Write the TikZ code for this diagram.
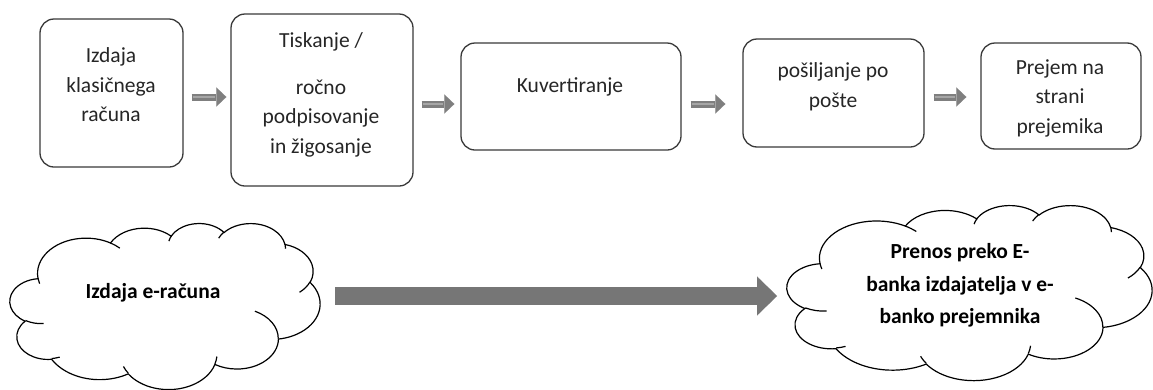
\documentclass[tikz,border=0pt]{standalone}
\usepackage{fontspec}
\setmainfont{Carlito}
\usetikzlibrary{arrows.meta}

\definecolor{boxline}{HTML}{3A3A3A}
\definecolor{txt}{HTML}{262626}
\definecolor{arrowgray}{HTML}{7F7F7F}
\definecolor{arrowlight}{HTML}{A6A6A6}
\definecolor{bigarrow}{HTML}{767676}

% parametric start/end angles of an elliptic arc given by its radii,
% a visual start angle and a sweep (all angles in degrees)
\newcommand\ellarcangles[4]{%
  \pgfmathsetmacro\oaS{atan2((#1)*sin(#3),(#2)*cos(#3))}%
  \pgfmathsetmacro\oaE{atan2((#1)*sin(#3+#4),(#2)*cos(#3+#4))}%
  \pgfmathsetmacro\oaE{\oaE<\oaS ? \oaE+360 : \oaE}%
}

\tikzset{
  oarc/.style n args={4}{/utils/exec={\ellarcangles{#1}{#2}{#3}{#4}},
    x radius=#1, y radius=#2, start angle=\oaS, end angle=\oaE},
  stepbox/.style={draw=boxline, line width=1.3pt, rounded corners=14pt,
    fill=white, inner sep=0pt},
  boxtext/.style={font=\fontsize{21.5}{29.5}\selectfont, text=txt,
    align=center, inner sep=0pt},
  cloudtext/.style={font=\fontsize{21.5}{32.5}\selectfont\bfseries,
    text=black, align=center, inner sep=0pt},
  cloudframe/.style={inner sep=0pt, outer sep=0pt},
  cloudline/.style={draw=black, line width=1.2pt},
  smallarrow/.style 2 args={draw=arrowgray, line width=7pt,
    shorten <=#1, shorten >=#2,
    -{Triangle[length=10pt,width=19pt,line width=0.1pt]},
    postaction={draw=arrowlight, line width=1.6pt, -,
      shorten <=#1+1pt, shorten >=#2+11pt}},
  bigflow/.style={draw=bigarrow, line width=18pt,
    -{Triangle[length=20pt,width=39pt,line width=0.1pt]}},
  % cloud outline on a 4320 x 4320 grid
  wordcloud/.pic={
    \draw[cloudline, fill=white] (390,1437)
      arc[oarc={675.3}{919.0}{-190.4875}{123.7805}]
      arc[oarc={533.3}{726.7}{-144.1024}{89.9452}]
      arc[oarc={436.5}{594.5}{-145.8079}{99.7230}]
      arc[oarc={485.7}{659.5}{-130.9861}{117.2417}]
      arc[oarc={533.3}{727.3}{-78.7089}{109.0269}]
      arc[oarc={677.5}{922.0}{-46.2673}{130.2690}]
      arc[oarc={578.5}{786.7}{0.6250}{114.0333}]
      arc[oarc={675.2}{921.5}{22.4516}{115.1726}]
      arc[oarc={772.0}{1054.3}{66.2426}{75.7110}]
      arc[oarc={436.0}{591.8}{-274.9421}{146.7356}]
      arc[oarc={434.5}{594.5}{-246.8285}{152.5189}]
      -- cycle;
    \draw[cloudline]
      (469.3,2617.7) arc[oarc={434.5}{594.5}{86.742}{26.4295}]
      (692.8,3489.9) arc[oarc={436.0}{591.8}{73.6105}{11.4475}]
      (1647.8,3909.0) arc[oarc={675.2}{921.5}{137.6242}{14.0811}]
      (2882.7,3475.1) arc[oarc={675.2}{921.5}{6.4533}{15.9984}]
      (3412.9,2295.4) arc[oarc={578.5}{786.7}{-70.2924}{70.9174}]
      (4179.8,1535.4) arc[oarc={533.3}{727.3}{30.3180}{27.7515}]
      (3832.4,542.6) arc[oarc={485.7}{659.5}{-13.7443}{14.8589}]
      (2907.8,395.2) arc[oarc={485.7}{659.5}{-149.1815}{18.1954}]
      (2214.1,472.0) arc[oarc={436.5}{594.5}{-163.4943}{17.6864}]
      (1400.0,519.2) arc[oarc={675.3}{919.0}{-66.7070}{12.3194}]
      (412.7,1578.9) arc[oarc={675.3}{919.0}{157.6544}{11.8582}];
  },
}

\begin{document}
\begin{tikzpicture}[x=1pt, y=-1pt]
  \useasboundingbox (0,0) rectangle (1153,389);
  \fill[white] (0,0) rectangle (1153,389);

  % classic invoice path
  \node[stepbox, minimum width=143pt, minimum height=148pt] (b1) at (111.5,93) {};
  \node[stepbox, minimum width=182pt, minimum height=172pt] (b2) at (322,100) {};
  \node[stepbox, minimum width=220pt, minimum height=107pt] (b3) at (571,96.5) {};
  \node[stepbox, minimum width=181pt, minimum height=108pt] (b4) at (833.5,93) {};
  \node[stepbox, minimum width=160pt, minimum height=106pt] (b5) at (1061,96) {};

  \node[boxtext] (t1) at (111,85) {Izdaja\\klasičnega\\računa};
  \node[boxtext] (t2) at (321,95) {Tiskanje /\\[17pt]ročno\\podpisovanje\\in žigosanje};
  \node[boxtext] (t3) at (570,87) {Kuvertiranje};
  \node[boxtext] (t4) at (833,87) {pošiljanje po\\pošte};
  \node[boxtext] (t5) at (1060,98) {Prejem na\\strani\\prejemika};

  \draw[smallarrow={8pt}{4pt}] (b1.east |- 0,97) -- (b2.west |- 0,97);
  \draw[smallarrow={8pt}{6pt}] (b2.east |- 0,104) -- (b3.west |- 0,104);
  \draw[smallarrow={9pt}{17pt}] (b3.east |- 0,104) -- (b4.west |- 0,104);
  \draw[smallarrow={9pt}{14pt}] (b4.east |- 0,97) -- (b5.west |- 0,97);

  % e-invoice path
  \node[cloudframe, minimum width=310pt, minimum height=166pt] (c1) at (165,306) {};
  \node[cloudframe, minimum width=365pt, minimum height=175pt] (c2) at (969.5,292.5) {};
  \pic[x=0.071759pt, y=-0.038426pt] at (c1.north west) {wordcloud};
  \pic[x=0.084491pt, y=-0.040509pt] at (c2.north west) {wordcloud};

  \node[cloudtext] (ct1) at (153,293) {Izdaja e-računa};
  \node[cloudtext] (ct2) at (960,285.5) {Prenos preko E-\\banka izdajatelja v e-\\banko prejemnika};

  \draw[bigflow, shorten <=15pt, shorten >=10pt] (c1.east |- 0,296) -- (c2.west |- 0,296);
\end{tikzpicture}
\end{document}
